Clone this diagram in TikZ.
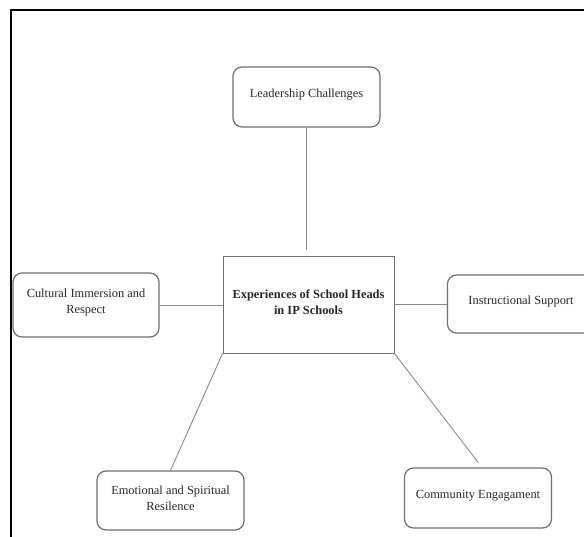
\documentclass[tikz,border=0pt]{standalone}
\usepackage{fontspec}
\setmainfont{Liberation Serif}
\definecolor{boxgray}{HTML}{6E6E6E}
\definecolor{linegray}{HTML}{8A8A8A}

\begin{document}
\begin{tikzpicture}[x=1pt, y=-1pt,
        box/.style={draw=boxgray, line width=1.2pt, rounded corners=9pt, minimum width=147pt, minimum height=60pt, inner sep=0pt},
        txt/.style={align=center, font=\fontsize{12.4}{16}\selectfont, text=black!85, yshift=2.5pt},
        link/.style={draw=linegray, line width=0.9pt}]
    \useasboundingbox (0,0) rectangle (584,536);
    \clip (0,0) rectangle (584,536);
    \draw[line width=2.6pt] (11,10) rectangle (620,570);
    % theme boxes
    \node[draw=boxgray, line width=0.9pt, minimum width=171pt, minimum height=97pt,
          label={[txt, font=\fontsize{12.4}{16}\selectfont\bfseries]center:{Experiences of School Heads\\in IP Schools}}] (heads) at (308.5,304.5) {};
    \node[box, label={[txt]center:Leadership Challenges}] (lead) at (306.5,97) {};
    \node[box, minimum width=146pt, minimum height=64pt, label={[txt]center:{Cultural Immersion and\\Respect}}] (cult) at (86,305) {};
    \node[box, minimum height=58pt, label={[txt]center:Instructional Support}] (instr) at (521,304) {};
    \node[box, minimum height=59pt, label={[txt]center:{Emotional and Spiritual\\Resilence}}] (emo) at (170.5,500.5) {};
    \node[box, label={[txt]center:Community Engagament}] (comm) at (478,498) {};
    % links
    \draw[link, shorten >=6pt] (lead.south) -- (lead.south |- heads.north);
    \draw[link] (cult.east) -- (cult.east -| heads.west);
    \draw[link] (heads.east) -- (heads.east -| instr.west);
    \draw[link] (heads.south west) -- (emo.north);
    \draw[link, shorten >=6pt] (heads.south east) -- ([xshift=4pt]comm.north);
\end{tikzpicture}
\end{document}
